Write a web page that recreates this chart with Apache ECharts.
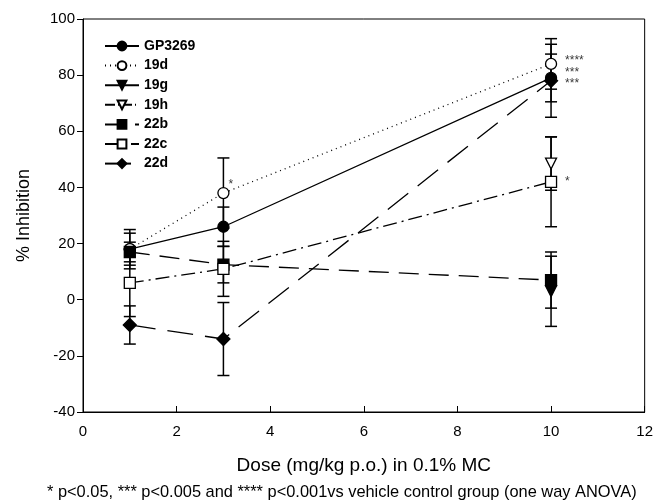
<!DOCTYPE html>
<html>
<head>
<meta charset="utf-8">
<script src="https://cdn.jsdelivr.net/npm/echarts@6/dist/echarts.min.js"></script>
<style>
  html, body { margin: 0; padding: 0; background: #fff; }
  #chart { width: 656px; height: 504px; }
</style>
</head>
<body>
<div id="chart"></div>
<script>
// doses (mg/kg)
const doses = [1, 3, 10];

// mean % inhibition and error per compound
const gp3269 = [18, 26, 79];
const gp3269Err = [5.7, 7, 8.5];
const c19d = [18, 38, 84];
const c19dErr = [7, 12.5, 9];
const c19g = [null, null, 3];
const c19gErr = [null, null, 12.5];
const c19h = [null, null, 48.5];
const c19hErr = [null, null, 9.5];
const c22b = [17, 12.5, 7];
const c22bErr = [3.5, 6.5, 10];
const c22c = [6, 11, 42];
const c22cErr = [12, 9.8, 16];
const c22d = [-9, -14, 78];
const c22dErr = [6.8, 13, 13];

// significance marks [x, y, text]
const stars = [
  [3, 41, '*'],
  [10, 85, '****'],
  [10, 81, '***'],
  [10, 77, '***'],
  [10, 42, '*']
];

const xTicks = { min: 0, max: 12, interval: 2 };
const yTicks = { min: -40, max: 100, interval: 20 };

const pairs = (ys) => doses.map((d, i) => [d, ys[i]]).filter(p => p[1] !== null);

const compounds = [
  { name: 'GP3269', y: gp3269, err: gp3269Err, symbol: 'circle', fill: '#000', line: 'solid' },
  { name: '19d', y: c19d, err: c19dErr, symbol: 'circle', fill: '#fff', line: [1, 4] },
  { name: '19g', y: c19g, err: c19gErr, symbol: 'triangle', fill: '#000', line: 'solid', rotate: 180 },
  { name: '19h', y: c19h, err: c19hErr, symbol: 'triangle', fill: '#fff', line: [10, 3, 1, 3], rotate: 180 },
  { name: '22b', y: c22b, err: c22bErr, symbol: 'rect', fill: '#000', line: [20, 10] },
  { name: '22c', y: c22c, err: c22cErr, symbol: 'rect', fill: '#fff', line: [14, 5, 2, 5] },
  { name: '22d', y: c22d, err: c22dErr, symbol: 'diamond', fill: '#000', line: [26, 12] }
];

const series = [];

// error bars under the markers
compounds.forEach(c => {
  const data = doses.map((d, i) => [d, c.y[i], c.err[i]]).filter(p => p[1] !== null);
  series.push({
    type: 'custom',
    name: c.name + ' err',
    z: 1,
    silent: true,
    data: data,
    renderItem: (params, api) => {
      const x = api.value(0), y = api.value(1), e = api.value(2);
      const top = api.coord([x, y + e]);
      const bot = api.coord([x, y - e]);
      const w = 6;
      const st = { stroke: '#000', lineWidth: 1.5 };
      return {
        type: 'group',
        children: [
          { type: 'line', shape: { x1: top[0], y1: top[1], x2: bot[0], y2: bot[1] }, style: st },
          { type: 'line', shape: { x1: top[0] - w, y1: top[1], x2: top[0] + w, y2: top[1] }, style: st },
          { type: 'line', shape: { x1: bot[0] - w, y1: bot[1], x2: bot[0] + w, y2: bot[1] }, style: st }
        ]
      };
    }
  });
});

compounds.forEach(c => {
  series.push({
    type: 'line',
    name: c.name,
    z: 3,
    data: pairs(c.y),
    symbol: c.symbol,
    symbolSize: c.symbol === 'diamond' ? 13 : 11,
    symbolRotate: c.rotate || 0,
    showAllSymbol: true,
    lineStyle: { color: '#000', width: 1.3, type: c.line },
    itemStyle: { color: c.fill, borderColor: '#000', borderWidth: 1.3 },
    emphasis: { disabled: true }
  });
});

series.push({
  type: 'scatter',
  name: 'stars',
  z: 4,
  symbolSize: 0,
  data: stars.map(s => ({ value: s, label: { distance: s[0] === 3 ? 5 : 14 } })),
  label: {
    show: true,
    position: 'right',
    formatter: p => p.value[2],
    fontFamily: 'Liberation Sans, Arial, sans-serif',
    fontSize: 12,
    color: '#000'
  }
});

const chart = echarts.init(document.getElementById('chart'));
chart.setOption({
  animation: false,
  textStyle: { fontFamily: 'Liberation Sans, Arial, sans-serif' },
  title: {
    text: '* p<0.05, *** p<0.005 and **** p<0.001vs vehicle control group (one way ANOVA)',
    left: 47,
    bottom: 4,
    padding: 0,
    textStyle: { fontSize: 16.4, fontWeight: 'normal', color: '#000' }
  },
  grid: { left: 83, right: 9, top: 19, bottom: 92, show: true, borderColor: '#000', borderWidth: 1 },
  legend: {
    data: compounds.map(c => c.name),
    orient: 'vertical',
    left: 99,
    top: 34,
    itemWidth: 34,
    itemHeight: 11,
    itemGap: 5.6,
    textStyle: { fontSize: 14, fontWeight: 'bold', color: '#000' }
  },
  xAxis: {
    type: 'value',
    min: xTicks.min, max: xTicks.max, interval: xTicks.interval,
    name: 'Dose (mg/kg p.o.) in 0.1% MC',
    nameLocation: 'middle',
    nameGap: 44,
    nameTextStyle: { fontSize: 19, color: '#000' },
    axisLine: { onZero: false, lineStyle: { color: '#000' } },
    axisTick: { inside: true, length: 6, lineStyle: { color: '#000' } },
    axisLabel: { fontSize: 15, color: '#000', margin: 12 },
    splitLine: { show: false }
  },
  yAxis: {
    type: 'value',
    min: yTicks.min, max: yTicks.max, interval: yTicks.interval,
    name: '% Inhibition',
    nameLocation: 'middle',
    nameGap: 50,
    nameTextStyle: { fontSize: 18, color: '#000' },
    axisLine: { show: true, lineStyle: { color: '#000' } },
    axisTick: { show: true, length: 6, lineStyle: { color: '#000' } },
    axisLabel: { fontSize: 15, color: '#000', margin: 8 },
    splitLine: { show: false }
  },
  series: series
});
</script>
</body>
</html>
